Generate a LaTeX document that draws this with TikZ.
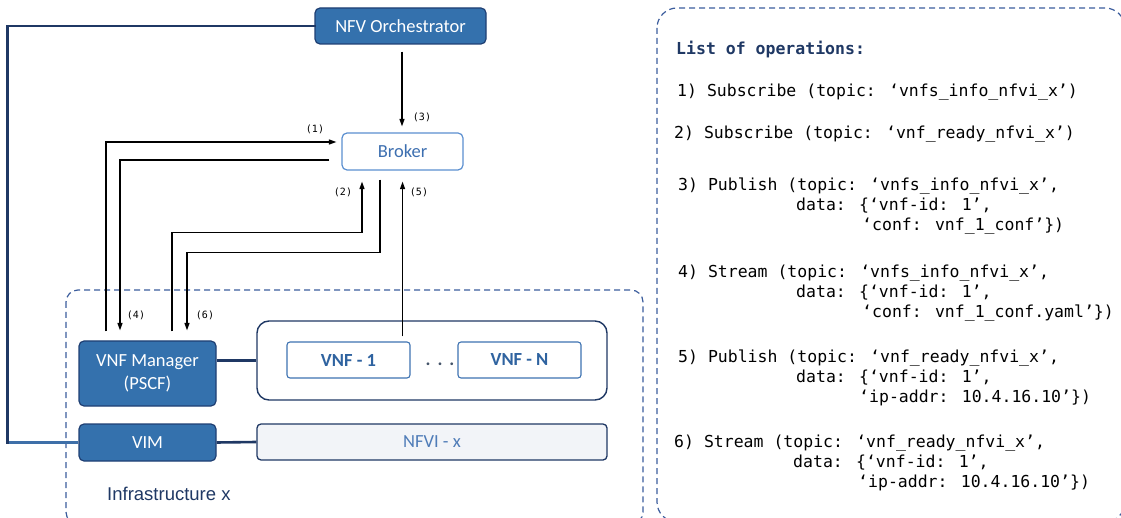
\documentclass[tikz,border=0pt]{standalone}
\usepackage{fontspec}
\setmainfont{Carlito}
\newfontfamily\arialfont{Liberation Sans}
\newfontfamily\codefont{DejaVu Sans Mono}
\usetikzlibrary{arrows.meta,calc}

\definecolor{navy}{HTML}{1F3864}
\definecolor{boxblue}{HTML}{3471AD}
\definecolor{boxedge}{HTML}{1F3F73}
\definecolor{brokeredge}{HTML}{5B8FD0}
\definecolor{brokertext}{HTML}{3D6FB0}
\definecolor{vnfedge}{HTML}{3E73B2}
\definecolor{vnftext}{HTML}{2F63A0}
\definecolor{nfvifill}{HTML}{F2F4F8}
\definecolor{nfvitext}{HTML}{4F7CB8}
\definecolor{dashblue}{HTML}{3A5C9C}
\definecolor{midblue}{HTML}{3E6FA8}
\definecolor{dotgray}{HTML}{44546A}

\begin{document}
\begin{tikzpicture}[x=1pt,y=-1pt,
  boxfont/.style={font=\fontsize{18.5}{23}\selectfont},
  darkbox/.style={boxfont, draw=boxedge, line width=1.2pt, fill=boxblue, text=white,
    rounded corners=5pt, inner sep=0pt, align=center},
  brokerbox/.style={boxfont, draw=brokeredge, line width=1.2pt, fill=white, text=brokertext,
    rounded corners=5pt, inner sep=0pt},
  vnfbox/.style={boxfont, font=\fontsize{18.5}{23}\selectfont\bfseries, draw=vnfedge, line width=1.1pt,
    fill=white, text=vnftext, rounded corners=3pt, inner sep=0pt},
  groupbox/.style={draw=navy, line width=1.4pt, fill=white, rounded corners=12pt, inner sep=0pt},
  nfvibox/.style={boxfont, draw=navy, line width=1.3pt, fill=nfvifill, text=nfvitext,
    rounded corners=4pt, inner sep=0pt},
  dashbox/.style={draw=dashblue, line width=1.2pt, dash pattern=on 6pt off 4pt},
  link/.style={draw=navy, line width=2.6pt},
  arr/.style={draw=black, line width=1.2pt, -{Triangle[length=7.5pt,width=5pt]}},
  steplabel/.style={font=\codefont\fontsize{10}{12}\selectfont, inner sep=0pt},
  codeline/.style={font=\codefont\fontsize{16.5}{20}\selectfont, anchor=base west, inner sep=0pt},
]
\useasboundingbox (0,0) rectangle (1121,518);

% dashed frames
\draw[dashbox, rounded corners=12pt] (66,290) rectangle (643,524);
\draw[dashbox, rounded corners=20pt] (657,8) rectangle (1125,522);

% main blocks
\node[darkbox, minimum width=171pt, minimum height=36pt] (orch) at (400.5,26) {NFV Orchestrator};
\node[brokerbox, minimum width=121pt, minimum height=37pt] (broker) at (402.5,151.5) {Broker};
\node[darkbox, minimum width=137pt, minimum height=65pt] (vnfm) at (147.5,373.5) {VNF Manager\\(PSCF)};
\node[darkbox, minimum width=137pt, minimum height=37pt] (vim) at (147.5,442.5) {VIM};
\node[groupbox, minimum width=350pt, minimum height=79pt] (grp) at (432,360.5) {};
\node[vnfbox, minimum width=123pt, minimum height=36pt] (vnf1) at (348.5,360) {VNF - 1};
\node[vnfbox, minimum width=123pt, minimum height=36pt] (vnfn) at (519.5,360) {VNF - N};
\node[font=\fontsize{18.5}{23}\selectfont\bfseries, text=dotgray, inner sep=0pt] (dots) at (440,364) {.\hspace{7pt}.\hspace{7pt}.};
\node[nfvibox, minimum width=350pt, minimum height=36pt] (nfvi) at (432,442) {NFVI - x};
\node[font=\arialfont\fontsize{18.5}{22}\selectfont, text=navy, anchor=west, inner sep=0pt] (infra) at (107,494) {Infrastructure x};

% management links
\draw[link] (vnfm.east |- grp.west) -- (grp.west);
\draw[link] (vim.east) -- (nfvi.west);
\coordinate (cbot) at (7.5,442.5);
\coordinate (ctop) at (7.5,26);
\draw[draw=midblue, line width=2.6pt] (vim.west) -- (cbot);
\draw[link, line cap=rect] (cbot) -- (ctop) -- (orch.west);

% message flows
\draw[arr] ($(orch.south)+(1.5,7)$) -- ($(broker.north)+(-0.5,-6)$);
\draw[arr] ($(vnfm.north)+(-41.5,-9)$) |- ($(broker.west)+(-5,-9.5)$);
\draw[arr] ($(broker.west)+(-12,8.5)$) -| ($(vnfm.north)+(-27.5,-10)$);
\draw[arr] ($(vnfm.north)+(24.5,-9)$) -- ++(0,-99) -| ($(broker.south)+(-40.5,11)$);
\draw[arr] ($(broker.south)+(-22.5,9)$) -- ++(0,73) -| ($(vnfm.north)+(39.5,-10)$);
\coordinate (s5) at ($(vnf1.north east)+(-8,-5)$);
\coordinate (e5) at ($(broker.south)+(0,11)$);
\draw[arr] (s5) -- (s5 |- e5);

% step labels
\node[steplabel] (l1) at (315,129) {(1)};
\node[steplabel] (l2) at (343,192) {(2)};
\node[steplabel] (l3) at (422,117) {(3)};
\node[steplabel] (l4) at (136,315) {(4)};
\node[steplabel] (l5) at (419,192) {(5)};
\node[steplabel] (l6) at (205,315) {(6)};

% list of operations
\node[codeline, font=\codefont\bfseries\fontsize{16.5}{20}\selectfont, text=navy] (title) at (676,55) {List of operations:};
\node[codeline] (op1) at (677,96.5) {1) Subscribe (topic: ‘vnfs\_info\_nfvi\_x’)};
\node[codeline] (op2) at (674,139) {2) Subscribe (topic: ‘vnf\_ready\_nfvi\_x’)};

\node[codeline] (op3a) at (678,191) {3) Publish (topic: ‘vnfs\_info\_nfvi\_x’,};
\node[codeline] (op3b) at (796,211) {data: \{‘vnf-id: 1’,};
\node[codeline] (op3c) at (862,231) {‘conf: vnf\_1\_conf’\})};

\node[codeline] (op4a) at (678,278) {4) Stream (topic: ‘vnfs\_info\_nfvi\_x’,};
\node[codeline] (op4b) at (796,298) {data: \{‘vnf-id: 1’,};
\node[codeline] (op4c) at (862,318) {‘conf: vnf\_1\_conf.yaml’\})};

\node[codeline] (op5a) at (678,362) {5) Publish (topic: ‘vnf\_ready\_nfvi\_x’,};
\node[codeline] (op5b) at (796,382) {data: \{‘vnf-id: 1’,};
\node[codeline] (op5c) at (859,402) {‘ip-addr: 10.4.16.10’\})};

\node[codeline] (op6a) at (674,447) {6) Stream (topic: ‘vnf\_ready\_nfvi\_x’,};
\node[codeline] (op6b) at (793,467) {data: \{‘vnf-id: 1’,};
\node[codeline] (op6c) at (858,487) {‘ip-addr: 10.4.16.10’\})};
\end{tikzpicture}
\end{document}
